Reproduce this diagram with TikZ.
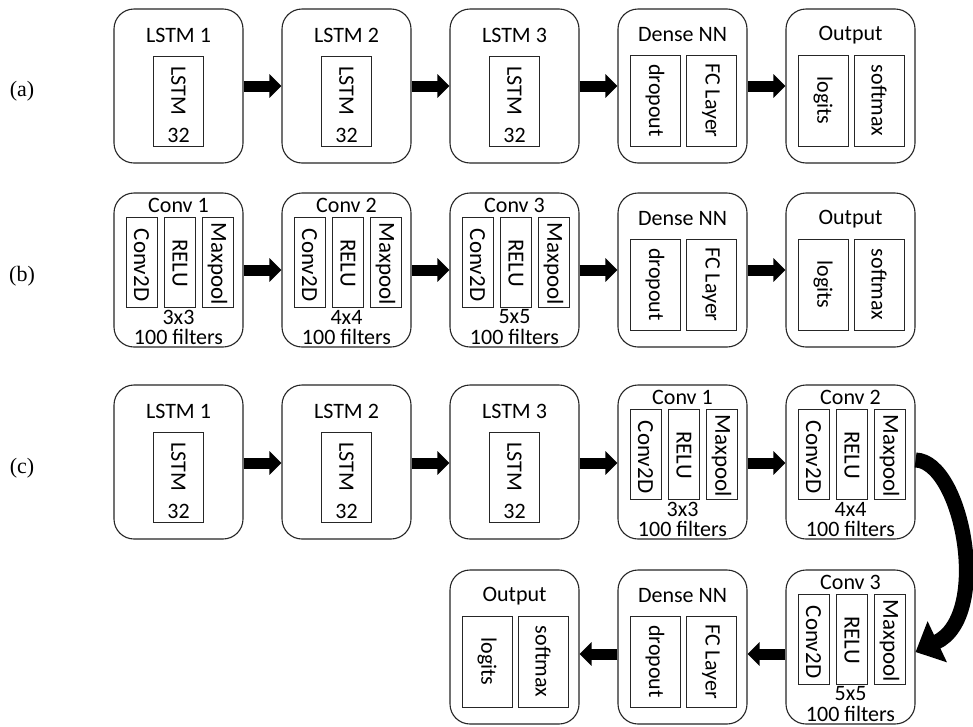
\documentclass[tikz,border=0pt]{standalone}
\usepackage{fontspec}
\setmainfont{Carlito}
\newfontfamily\labfont{Liberation Serif}
\usetikzlibrary{arrows.meta}
\tikzset{
  outerbox/.style={draw=black!85, line width=1.1pt, rounded corners=20pt, minimum width=129pt, minimum height=154pt, inner sep=0pt},
  innerbox/.style={draw=black!85, line width=0.9pt, inner sep=0pt},
  txt/.style={inner sep=0pt, font=\fontsize{22}{24}\selectfont},
  rtxt/.style={txt, rotate=-90},
  crtxt/.style={inner sep=0pt, rotate=-90, font=\fontsize{23}{25}\selectfont},
  lab/.style={inner sep=0pt, font=\fontsize{22}{24}\selectfont\labfont},
  blockarrow/.style={line width=11pt, -{Triangle[length=12pt,width=23pt]}},
  bigarrow/.style={line width=15pt, -{Triangle[length=24pt,width=44pt]}}
}
% #1 name, #2 left x, #3 top y, #4 title
\newcommand{\lstmblock}[4]{%
  \node[outerbox] (#1) at ({#2+64.5},{#3+77}) {};
  \node[txt] (#1-t) at ({#2+64.5},{#3+26}) {#4};
  \node[innerbox, minimum width=50pt, minimum height=90pt] (#1-i) at ({#2+64.5},{#3+92}) {};
  \node[rtxt] (#1-a) at ({#2+64.5},{#3+82}) {LSTM};
  \node[txt] (#1-b) at ({#2+64.5},{#3+126}) {32};
}
% #1 name, #2 left x, #3 top y, #4 title, #5 dims
\newcommand{\convblock}[5]{%
  \node[outerbox] (#1) at ({#2+64.5},{#3+77}) {};
  \node[txt] (#1-t) at ({#2+64.5},{#3+12}) {#4};
  \node[innerbox, minimum width=31pt, minimum height=90pt] (#1-i1) at ({#2+27.5},{#3+69}) {};
  \node[innerbox, minimum width=31pt, minimum height=90pt] (#1-i2) at ({#2+66},{#3+69}) {};
  \node[innerbox, minimum width=31pt, minimum height=90pt] (#1-i3) at ({#2+103.5},{#3+69}) {};
  \node[crtxt] (#1-a) at ({#2+27.5},{#3+72}) {Conv2D};
  \node[crtxt] (#1-b) at ({#2+66},{#3+70}) {RELU};
  \node[crtxt] (#1-c) at ({#2+103.5},{#3+71}) {Maxpool};
  \node[txt] (#1-d) at ({#2+64.5},{#3+124}) {#5};
  \node[txt] (#1-e) at ({#2+64.5},{#3+144}) {100 filters};
}
% #1 name, #2 left x, #3 top y, #4 title, #5 first, #6 second
\newcommand{\pairblock}[6]{%
  \node[outerbox] (#1) at ({#2+64.5},{#3+77}) {};
  \node[txt] (#1-t) at ({#2+64.5},{#3+26}) {#4};
  \node[innerbox, minimum width=50pt, minimum height=91pt] (#1-i1) at ({#2+37},{#3+91.5}) {};
  \node[innerbox, minimum width=50pt, minimum height=91pt] (#1-i2) at ({#2+93},{#3+91.5}) {};
  \node[rtxt] (#1-a) at ({#2+37},{#3+91.5}) {#5};
  \node[rtxt] (#1-b) at ({#2+93},{#3+91.5}) {#6};
}
\begin{document}
\begin{tikzpicture}[x=1pt,y=-1pt]
\useasboundingbox (0,0) rectangle (973,726);
\fill[white] (0,0) rectangle (973,726);
% labels
\node[lab] (la) at (22,91) {(a)};
\node[lab] (lb) at (22,276) {(b)};
\node[lab] (lc) at (22,468) {(c)};
% row a
\lstmblock{a1}{114}{9}{LSTM 1}
\lstmblock{a2}{282}{9}{LSTM 2}
\lstmblock{a3}{450}{9}{LSTM 3}
\pairblock{a4}{618}{9}{Dense NN}{dropout}{FC Layer}
\pairblock{a5}{786}{9}{Output}{logits}{softmax}
% row b
\convblock{b1}{114}{193}{Conv 1}{3x3}
\convblock{b2}{282}{193}{Conv 2}{4x4}
\convblock{b3}{450}{193}{Conv 3}{5x5}
\pairblock{b4}{618}{193}{Dense NN}{dropout}{FC Layer}
\pairblock{b5}{786}{193}{Output}{logits}{softmax}
% row c
\lstmblock{c1}{114}{385}{LSTM 1}
\lstmblock{c2}{282}{385}{LSTM 2}
\lstmblock{c3}{450}{385}{LSTM 3}
\convblock{c4}{618}{385}{Conv 1}{3x3}
\convblock{c5}{786}{385}{Conv 2}{4x4}
% row d
\convblock{d3}{786}{570}{Conv 3}{5x5}
\pairblock{d2}{618}{570}{Dense NN}{dropout}{FC Layer}
\pairblock{d1}{450}{570}{Output}{logits}{softmax}
% arrows
\foreach \p/\q in {a1/a2,a2/a3,a3/a4,a4/a5,b1/b2,b2/b3,b3/b4,b4/b5}
  \draw[blockarrow] (\p.east) -- (\q.west);
\foreach \p/\q in {c1/c2,c2/c3,c3/c4,c4/c5}
  \draw[blockarrow] ([yshift=-1pt]\p.east) -- ([yshift=-1pt]\q.west);
\foreach \p/\q in {d3/d2,d2/d1}
  \draw[blockarrow] ([yshift=-7pt]\p.west) -- ([yshift=-7pt]\q.east);
\draw[bigarrow] ([yshift=2pt]c5.east) .. controls (962,461) and (992,616) .. ([yshift=-5pt]d3.east);
\end{tikzpicture}
\end{document}
